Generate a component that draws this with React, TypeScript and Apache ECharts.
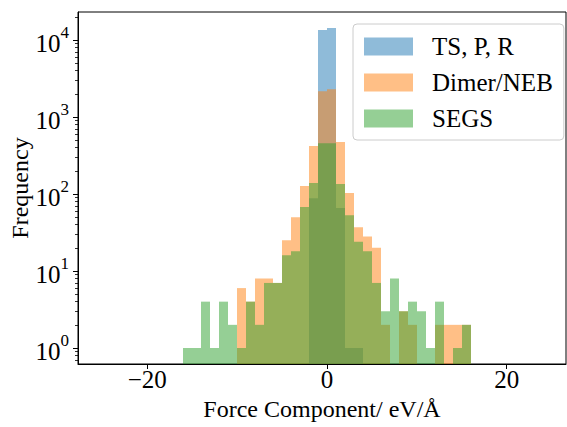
import React, { useEffect, useRef } from "react";
import * as echarts from "echarts";

// Histogram bins (left edges, width 1)
const BIN_LEFT = [-16, -15, -14, -13, -12, -11, -10, -9, -8, -7, -6, -5, -4, -3, -2, -1, 0, 1, 2, 3, 4, 5, 6, 7, 8, 9, 10, 11, 12, 13, 14, 15];
const BIN_WIDTH = 1;

const SERIES_NAMES = ["TS, P, R", "Dimer/NEB", "SEGS"];
const TS_P_R = [0, 0, 0, 0, 0, 0, 0, 0, 0, 0, 0, 0, 0, 0, 88, 13500, 14300, 66, 1, 1, 0, 0, 0, 0, 0, 0, 0, 0, 0, 0, 0, 0];
const DIMER_NEB = [0, 0, 0, 0, 0, 0, 6, 4, 8, 8, 7, 25, 50, 127, 420, 2160, 2290, 473, 103, 37, 28, 20, 2, 0, 3, 2, 0, 0, 2, 2, 2, 2];
const SEGS = [1, 1, 4, 1, 4, 2, 1, 4, 2, 7, 7, 16, 18, 68, 139, 455, 455, 135, 53, 24, 18, 7, 3, 8, 3, 4, 3, 1, 4, 0, 1, 2];

const X_TICKS = [-20, 0, 20];
const Y_TICKS = [1, 10, 100, 1000, 10000];
const Y_MINOR = [0.7, 0.8, 0.9, 2, 3, 4, 5, 6, 7, 8, 9, 20, 30, 40, 50, 60, 70, 80, 90, 200, 300, 400, 500, 600, 700, 800, 900, 2000, 3000, 4000, 5000, 6000, 7000, 8000, 9000, 20000];

const X_MIN = -27.7;
const X_MAX = 26.6;
const Y_MIN = 0.62;
const Y_MAX = 23100;

const COLORS = ["rgba(31,119,180,0.5)", "rgba(255,127,14,0.5)", "rgba(44,160,44,0.5)"];
const FONT = "'Liberation Serif', 'Times New Roman', serif";

function makeSeries(name: string, counts: number[], color: string) {
  return {
    type: "custom",
    name,
    silent: true,
    clip: true,
    itemStyle: { color },
    encode: { x: [0, 1], y: 2 },
    data: BIN_LEFT.map((x0, i) => [x0, x0 + BIN_WIDTH, counts[i]]).filter((d) => d[2] > 0),
    renderItem: (_params: any, api: any) => {
      const x0 = api.value(0);
      const x1 = api.value(1);
      const v = api.value(2);
      const pTop = api.coord([x0, v]);
      const pBot = api.coord([x1, Y_MIN]);
      const left = Math.round(pTop[0]);
      const right = Math.round(pBot[0]);
      return {
        type: "rect",
        shape: { x: left, y: pTop[1], width: right - left, height: pBot[1] - pTop[1] },
        style: { fill: color },
      };
    },
  };
}

export default function App() {
  const ref = useRef<HTMLDivElement>(null);
  useEffect(() => {
    if (!ref.current) return;
    const chart = echarts.init(ref.current, null, { renderer: "svg" });
    const lineStyle = { color: "#000", width: 1 };
    chart.setOption({
      animation: false,
      backgroundColor: "#fff",
      grid: {
        left: 78,
        top: 12,
        right: 1,
        bottom: 63,
        show: true,
        borderColor: "#000",
        borderWidth: 1,
        containLabel: false,
        outerBoundsMode: "none",
      },
      legend: {
        data: SERIES_NAMES,
        orient: "vertical",
        left: 353,
        top: 24,
        icon: "rect",
        itemWidth: 49,
        itemHeight: 18,
        itemGap: 11,
        padding: [10, 11, 9, 11],
        borderColor: "#cccccc",
        borderWidth: 1,
        borderRadius: 4,
        backgroundColor: "rgba(255,255,255,0.8)",
        selectedMode: false,
        textStyle: { fontFamily: FONT, fontSize: 25, color: "#000", lineHeight: 18, padding: [0, 0, 0, 14] },
      },
      xAxis: {
        type: "value",
        min: X_MIN,
        max: X_MAX,
        axisLine: { show: true, onZero: false, lineStyle },
        axisTick: { show: true, length: 5, customValues: X_TICKS, lineStyle },
        axisLabel: {
          customValues: X_TICKS,
          formatter: (v: number) => (v < 0 ? "\u2212" + Math.abs(v) : String(v)),
          fontFamily: FONT,
          fontSize: 25,
          color: "#000",
          margin: 3,
        },
        splitLine: { show: false },
        name: "Force Component/ eV/Å",
        nameLocation: "middle",
        nameGap: 31,
        nameTextStyle: { fontFamily: FONT, fontSize: 24, color: "#000" },
      },
      yAxis: [
        {
          type: "log",
          logBase: 10,
          min: Y_MIN,
          max: Y_MAX,
          axisLine: { show: true, onZero: false, lineStyle },
          axisTick: { show: true, length: 5, customValues: Y_TICKS, lineStyle },
          axisLabel: {
            customValues: Y_TICKS,
            formatter: (v: number) => `{b|10}{s|${Math.round(Math.log10(v))}}`,
            margin: 9,
            color: "#000",
            rich: {
              b: { fontFamily: FONT, fontSize: 25, color: "#000", lineHeight: 32, verticalAlign: "bottom" },
              s: { fontFamily: FONT, fontSize: 17, color: "#000", lineHeight: 17, verticalAlign: "top" },
            },
          },
          splitLine: { show: false },
          name: "Frequency",
          nameLocation: "middle",
          nameGap: 46,
          nameMoveOverlap: false,
          nameTextStyle: { fontFamily: FONT, fontSize: 24, color: "#000" },
        },
        {
          type: "log",
          logBase: 10,
          min: Y_MIN,
          max: Y_MAX,
          position: "left",
          axisLine: { show: false, onZero: false },
          axisTick: { show: true, length: 3, customValues: Y_MINOR, lineStyle: { color: "#000", width: 0.8 } },
          axisLabel: { show: false },
          splitLine: { show: false },
        },
      ],
      series: [
        makeSeries(SERIES_NAMES[0], TS_P_R, COLORS[0]),
        makeSeries(SERIES_NAMES[1], DIMER_NEB, COLORS[1]),
        makeSeries(SERIES_NAMES[2], SEGS, COLORS[2]),
      ],
    });
    return () => chart.dispose();
  }, []);
  return <div ref={ref} style={{ position: "fixed", left: 0, top: 0, width: 567, height: 427 }} />;
}
